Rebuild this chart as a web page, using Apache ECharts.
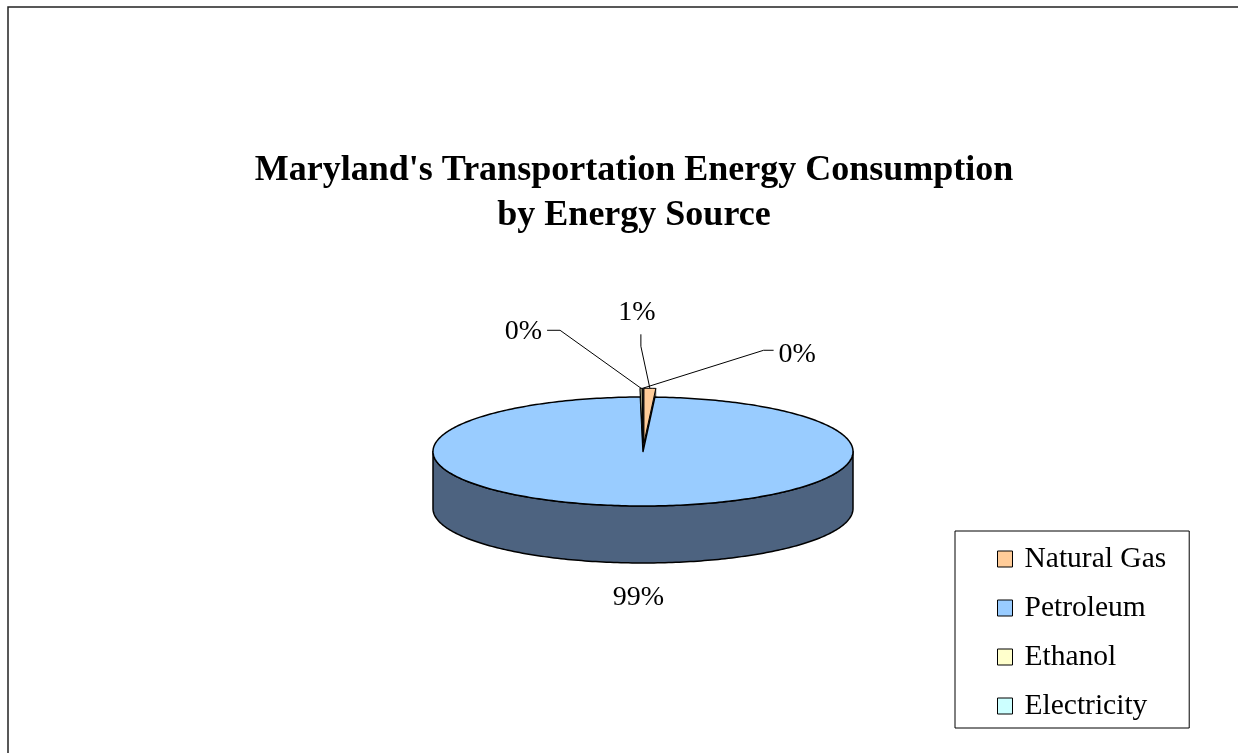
<!DOCTYPE html>
<html>
<head>
<meta charset="utf-8">
<script src="https://cdn.jsdelivr.net/npm/echarts@6/dist/echarts.min.js"></script>
<style>
  html, body { margin: 0; padding: 0; background: #fff; }
  #main { width: 1238px; height: 753px; }
</style>
</head>
<body>
<div id="main"></div>
<script>
// shares of transportation energy, percent
var categories = ['Natural Gas', 'Petroleum', 'Ethanol', 'Electricity'];
var shares = [0.9, 98.9, 0.15, 0.05];
var topColors = ['#FFCC99', '#99CCFF', '#FFFFCC', '#CCFFFF'];
var sideColors = ['#7F6650', '#4D6380', '#808066', '#668080'];
var exploded = [true, false, true, true];

var FONT = '"Times New Roman", "Liberation Serif", serif';
// pie geometry (ellipse of the top face + thickness)
var CX = 643, CY = 451.5, RX = 210, RY = 54.5, DEPTH = 57, EXPLODE = 0.16;

// label placement relative to the slice anchor
var labelLayout = [
  { leader: [[-9, -42], [-9, -54]], text: [-13, -76], align: 'center' },
  { leader: null, text: [0, 35], align: 'center' },
  { leader: [[-81, -58], [-94, -58]], text: [-99, -57], align: 'right' },
  { leader: [[121, -38], [131, -38]], text: [136, -34], align: 'left' }
];

var total = 0;
shares.forEach(function (v) { total += v; });
var startAngles = [], endAngles = [];
var acc = 0;
shares.forEach(function (v) {
  startAngles.push(acc / total * 360);
  acc += v;
  endAngles.push(acc / total * 360);
});

function pt(deg, dx, dy, down) {
  var r = deg * Math.PI / 180;
  return [CX + RX * Math.sin(r) + dx, CY - RY * Math.cos(r) + dy + (down || 0)];
}
function arc(a0, a1, dx, dy, down) {
  var pts = [];
  var n = Math.max(2, Math.ceil(Math.abs(a1 - a0)) + 1);
  for (var k = 0; k < n; k++) {
    pts.push(pt(a0 + (a1 - a0) * k / (n - 1), dx, dy, down));
  }
  return pts;
}

function makeRender(i) {
  return function (params, api) {
    var v = api.value(0);
    var a0 = startAngles[i], a1 = endAngles[i];
    var mid = (a0 + a1) / 2;
    var midR = mid * Math.PI / 180;
    var e = exploded[i] ? EXPLODE : 0;
    var dx = e * RX * Math.sin(midR), dy = -e * RY * Math.cos(midR);
    var children = [];
    var line = { stroke: '#000', lineWidth: 1.5, lineJoin: 'round' };

    // front side wall
    var s0 = Math.max(a0, 90), s1 = Math.min(a1, 270);
    if (s1 > s0) {
      var top = arc(s0, s1, dx, dy, 0);
      var bot = arc(s0, s1, dx, dy, DEPTH).reverse();
      children.push({
        type: 'polygon', z2: 1,
        shape: { points: top.concat(bot) },
        style: Object.assign({ fill: sideColors[i] }, line)
      });
    }
    // radial walls of exploded slices
    if (e) {
      [a0, a1].forEach(function (a) {
        var o = pt(a, dx, dy, 0);
        children.push({
          type: 'polygon', z2: 2,
          shape: { points: [[CX + dx, CY + dy], o, [o[0], o[1] + DEPTH], [CX + dx, CY + dy + DEPTH]] },
          style: { fill: sideColors[i], stroke: '#000', lineWidth: 0.5 }
        });
      });
    }
    // top face
    children.push({
      type: 'polygon', z2: e ? 4 : 3,
      shape: { points: [[CX + dx, CY + dy]].concat(arc(a0, a1, dx, dy, 0)) },
      style: Object.assign({ fill: topColors[i] }, line, e ? { lineWidth: 1 } : {})
    });

    // label
    var front = Math.cos(midR) < 0;
    var anchor = pt(mid, dx, dy, front ? DEPTH : 0);
    var lay = labelLayout[i];
    if (lay.leader) {
      var pts = [anchor].concat(lay.leader.map(function (p) { return [anchor[0] + p[0], anchor[1] + p[1]]; }));
      children.push({
        type: 'polyline', z2: 5,
        shape: { points: pts },
        style: { stroke: '#000', lineWidth: 1, fill: null }
      });
    }
    children.push({
      type: 'text', z2: 6,
      style: {
        text: Math.round(v / total * 100) + '%',
        x: anchor[0] + lay.text[0], y: anchor[1] + lay.text[1],
        align: lay.align, verticalAlign: 'middle',
        fill: '#000', fontSize: 28, fontFamily: FONT
      }
    });
    return { type: 'group', children: children };
  };
}

var chart = echarts.init(document.getElementById('main'));
chart.setOption({
  animation: false,
  backgroundColor: '#fff',
  title: {
    text: "Maryland's Transportation Energy Consumption\nby Energy Source",
    left: 634, top: 148, padding: 0,
    textAlign: 'center',
    textStyle: { fontFamily: FONT, fontSize: 36, fontWeight: 'bold', color: '#000', lineHeight: 45 }
  },
  legend: {
    orient: 'vertical',
    left: 955, top: 531,
    padding: [13, 23, 7, 42],
    itemGap: 19,
    itemWidth: 15, itemHeight: 16,
    icon: 'rect',
    backgroundColor: '#fff',
    borderColor: '#000', borderWidth: 1, borderRadius: 0,
    selectedMode: false,
    itemStyle: { borderColor: '#000', borderWidth: 1 },
    textStyle: { fontFamily: FONT, fontSize: 29.5, color: '#000', lineHeight: 29.5, padding: [0, 0, 0, 7] },
    data: categories
  },
  graphic: [{
    type: 'rect', silent: true, z: -1,
    shape: { x: 8, y: 7, width: 1400, height: 900 },
    style: { fill: null, stroke: '#222', lineWidth: 1.5 }
  }],
  series: categories.map(function (name, i) {
    return {
      type: 'custom',
      name: name,
      coordinateSystem: 'none',
      silent: true,
      itemStyle: { color: topColors[i] },
      renderItem: makeRender(i),
      data: [[shares[i]]]
    };
  })
});
</script>
</body>
</html>
